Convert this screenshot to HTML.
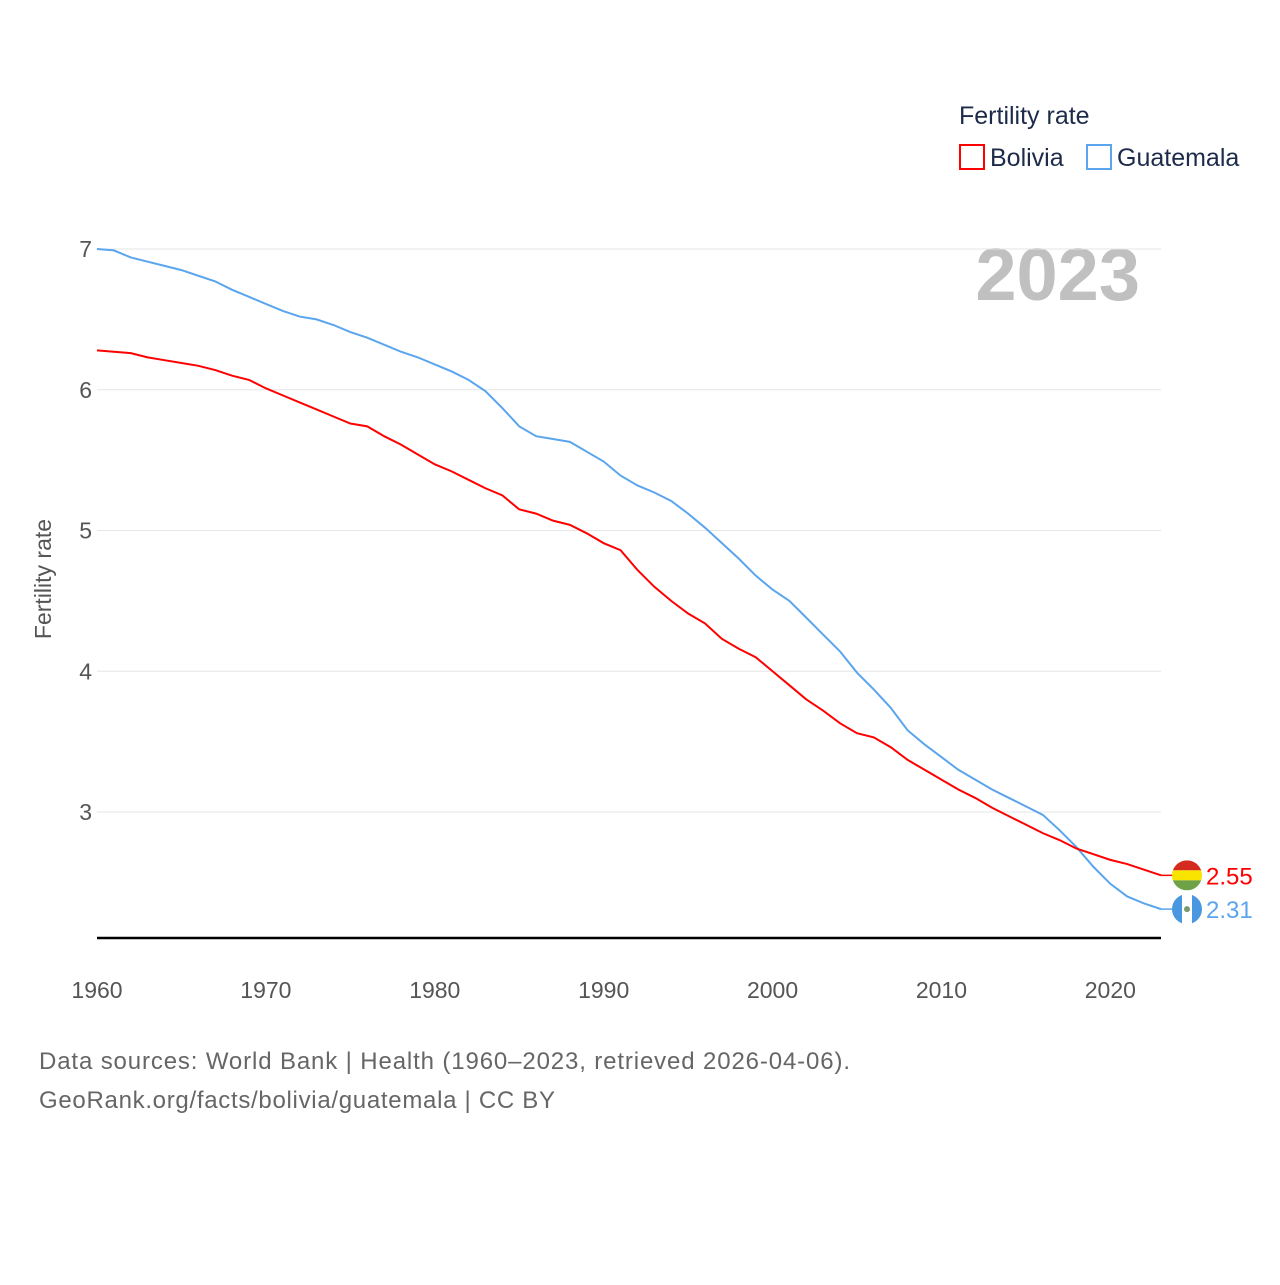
<!DOCTYPE html>
<html><head><meta charset="utf-8"><style>
body{margin:0;background:#fff;font-family:"Liberation Sans",sans-serif}
svg text{font-family:"Liberation Sans",sans-serif}
</style></head><body>
<svg id="chart" width="1280" height="1280" viewBox="0 0 1280 1280" xmlns="http://www.w3.org/2000/svg">
<rect width="1280" height="1280" fill="#fff"/>
<defs id="defs"></defs>
<text x="959" y="124" font-size="25" fill="#1d2b4a">Fertility rate</text>
<g><rect x="960" y="145" width="24" height="24" fill="none" stroke="#f00" stroke-width="2"/><text x="990" y="166" font-size="25" fill="#1d2b4a">Bolivia</text></g>
<g><rect x="1087" y="145" width="24" height="24" fill="none" stroke="#5aa5ee" stroke-width="2"/><text x="1117" y="166" font-size="25" fill="#1d2b4a">Guatemala</text></g>
<text x="1140" y="300" font-size="74" font-weight="bold" fill="#c0c0c0" text-anchor="end">2023</text>
<text transform="translate(51,579) rotate(-90)" font-size="23" fill="#555" text-anchor="middle">Fertility rate</text>
<g id="grid"></g><g id="series"></g>
<text x="39" y="1069" font-size="24" fill="#666" textLength="811">Data sources: World Bank | Health (1960–2023, retrieved 2026-04-06).</text>
<text x="39" y="1108" font-size="24" fill="#666" textLength="516">GeoRank.org/facts/bolivia/guatemala | CC BY</text>
</svg>
<script>
const years=[];for(let y=1960;y<=2023;y++)years.push(y);
const yTicks=[3,4,5,6,7];
const xTicks=[1960,1970,1980,1990,2000,2010,2020];
const guatemala=[7.0,6.99,6.94,6.91,6.88,6.85,6.81,6.77,6.71,6.66,6.61,6.56,6.52,6.50,6.46,6.41,6.37,6.32,6.27,6.23,6.18,6.13,6.07,5.99,5.87,5.74,5.67,5.65,5.63,5.56,5.49,5.39,5.32,5.27,5.21,5.12,5.02,4.91,4.80,4.68,4.58,4.50,4.38,4.26,4.14,3.99,3.87,3.74,3.58,3.48,3.39,3.30,3.23,3.16,3.10,3.04,2.98,2.87,2.75,2.61,2.49,2.40,2.35,2.31];
const bolivia=[6.28,6.27,6.26,6.23,6.21,6.19,6.17,6.14,6.10,6.07,6.01,5.96,5.91,5.86,5.81,5.76,5.74,5.67,5.61,5.54,5.47,5.42,5.36,5.30,5.25,5.15,5.12,5.07,5.04,4.98,4.91,4.86,4.72,4.60,4.50,4.41,4.34,4.23,4.16,4.10,4.00,3.90,3.80,3.72,3.63,3.56,3.53,3.46,3.37,3.30,3.23,3.16,3.10,3.03,2.97,2.91,2.85,2.80,2.74,2.70,2.66,2.63,2.59,2.55];
const NS='http://www.w3.org/2000/svg';
const X=y=>97+(y-1960)*(1161-97)/63;
const Y=v=>812-(v-3)*140.75;
function mk(t,a,p){const e=document.createElementNS(NS,t);for(const k in a)e.setAttribute(k,a[k]);p.appendChild(e);return e;}
const g=document.getElementById('grid'),s=document.getElementById('series'),defs=document.getElementById('defs');
yTicks.forEach(v=>{
 const l=mk('line',{x1:97,x2:1161,y1:Y(v),y2:Y(v),stroke:'#e6e6e6','stroke-width':1},g);
 
 
 const t=mk('text',{x:92,y:Y(v)+8,'font-size':23,fill:'#555','text-anchor':'end'},g);t.textContent=v;
 
 
});
xTicks.forEach(v=>{
 const t=mk('text',{x:X(v),y:998,'font-size':23,fill:'#555','text-anchor':'middle'},g);t.textContent=v;
 
 
});
const ax=mk('line',{x1:97,x2:1161,y1:938,y2:938,stroke:'#000','stroke-width':2.5},g);


function series(data,col,name,flag){
 const p=mk('polyline',{points:data.map((v,i)=>X(years[i])+','+Y(v)).join(' '),fill:'none',stroke:col,'stroke-width':2},s);
 
 
 const last=data[data.length-1],ly=Y(last),lx=X(years[years.length-1]);
 mk('line',{x1:lx,x2:lx+12,y1:ly,y2:ly,stroke:col,'stroke-width':1.5},s);
 const cx=1187,r=15;
 const cp=mk('clipPath',{id:'clip-'+flag},defs);
 mk('circle',{cx:cx,cy:ly,r:r},cp);
 const fg=mk('g',{'clip-path':'url(#clip-'+flag+')'},s);
 
 
 if(flag==='bo'){
  mk('rect',{x:cx-r,y:ly-r,width:2*r,height:10,fill:'#d52b1e'},fg);
  mk('rect',{x:cx-r,y:ly-5,width:2*r,height:10,fill:'#f9e300'},fg);
  mk('rect',{x:cx-r,y:ly+5,width:2*r,height:10,fill:'#6fa147'},fg);
 }else{
  mk('rect',{x:cx-r,y:ly-r,width:10,height:30,fill:'#4997e0'},fg);
  mk('rect',{x:cx-5,y:ly-r,width:10,height:30,fill:'#fff'},fg);
  mk('rect',{x:cx+5,y:ly-r,width:10,height:30,fill:'#4997e0'},fg);
  mk('circle',{cx:cx,cy:ly,r:3,fill:'#7a9a6a'},fg);
 }
 const t=mk('text',{x:1206,y:ly+9,'font-size':24,fill:col},s);t.textContent=last.toFixed(2);
 
 
}
series(guatemala,'#5aa5ee','guatemala','gt');
series(bolivia,'#ff0000','bolivia','bo');
</script>
</body></html>
